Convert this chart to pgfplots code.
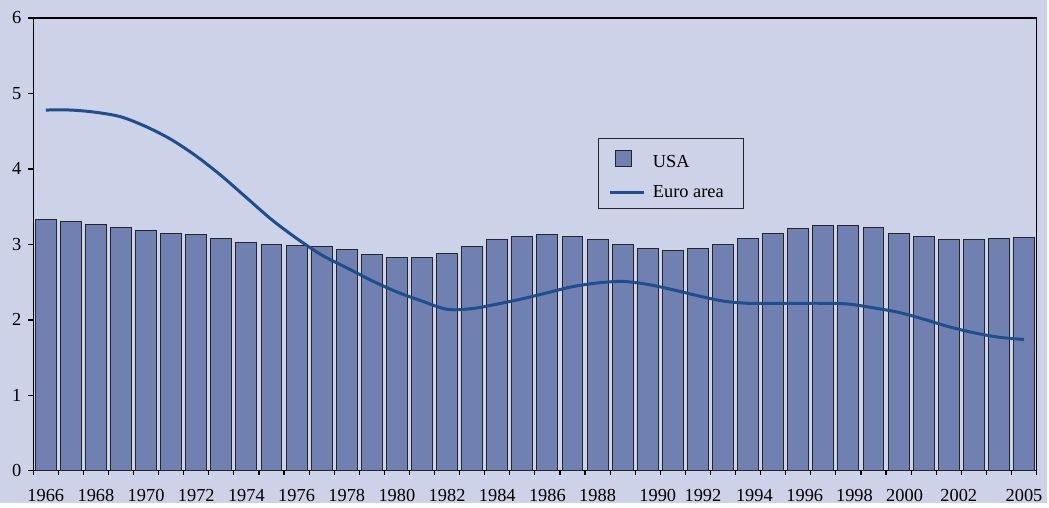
\documentclass[border=0pt]{standalone}
\usepackage{fontspec}
\setmainfont{Liberation Serif}
\usepackage{pgfplots}
\pgfplotsset{compat=1.18}
\definecolor{bgc}{RGB}{204,210,232}
\definecolor{barc}{RGB}{112,128,176}
\definecolor{linec}{RGB}{30,78,140}
\begin{document}
\begin{tikzpicture}
\fill[bgc] (0,0) rectangle (524.5pt,252pt);
\begin{axis}[
  at={(16.65pt,16pt)}, anchor=south west, scale only axis,
  width=502.85pt, height=227pt,
  xmin=-0.5, xmax=39.5, ymin=0, ymax=6,
  axis line style={black, line width=0.6pt},
  tick align=outside, tick pos=left,
  xtick={0,2,4,6,8,10,12,14,16,18,20,22,24.4,26.2,28.25,30.26,32.24,34.24,36.4,39},
  xticklabels={1966,1968,1970,1972,1974,1976,1978,1980,1982,1984,1986,1988,1990,1992,1994,1996,1998,2000,2002,2005},
  major x tick style={draw=none},
  minor xtick={-0.5,0.5,...,39.5},
  minor tick length=2pt,
  minor x tick style={black, line width=0.6pt},
  ytick={0,1,2,3,4,5,6},
  major tick length=2.5pt,
  major y tick style={black, line width=0.6pt},
  /pgf/number format/assume math mode=true,
  ticklabel style={font=\fontsize{9.2}{10}\selectfont},
  xticklabel style={yshift=-3pt},
  legend style={at={(0.5625,0.7357)}, anchor=north west, draw=black!85, fill=none,
    line width=0.5pt, font=\fontsize{9.2}{10}\selectfont, row sep=3.5pt,
    inner xsep=3pt, inner ysep=2pt},
  legend cell align=left,
]
\addlegendimage{legend image code/.code={\path[draw=none,fill=none] (-3pt,-4pt) rectangle (19.5pt,4pt);\draw[fill=barc, draw=black!85, line width=0.5pt] (2.5pt,-4pt) rectangle (10.5pt,4pt);}}
\addlegendentry{\rule{0pt}{10.5pt}USA}
\addlegendimage{legend image code/.code={\path[draw=none,fill=none] (-3pt,0pt) -- (19.5pt,0pt);\draw[linec, line width=1.5pt] (0pt,0pt) -- (17pt,0pt);}}
\addlegendentry{Euro area\rule{5pt}{0pt}}
\addplot[ybar, bar width=0.835, fill=barc, draw=black!85, line width=0.5pt, forget plot]
coordinates {
(0,3.33) (1,3.31) (2,3.27) (3,3.23) (4,3.18) (5,3.15) (6,3.13) (7,3.08) (8,3.02) (9,3.00)
(10,2.98) (11,2.97) (12,2.93) (13,2.87) (14,2.83) (15,2.83) (16,2.88) (17,2.97) (18,3.07) (19,3.11)
(20,3.13) (21,3.10) (22,3.06) (23,3.00) (24,2.95) (25,2.92) (26,2.95) (27,3.00) (28,3.08) (29,3.14)
(30,3.21) (31,3.25) (32,3.25) (33,3.22) (34,3.15) (35,3.10) (36,3.07) (37,3.07) (38,3.08) (39,3.09)
};
\addplot[linec, line width=1.5pt, smooth, mark=none, forget plot]
coordinates {
(0,4.78) (1,4.78) (2,4.75) (3,4.69) (4,4.56) (5,4.39) (6,4.17) (7,3.91) (8,3.62) (9,3.33)
(10,3.08) (11,2.86) (12,2.69) (13,2.52) (14,2.37) (15,2.25) (16,2.14) (17,2.15) (18,2.21) (19,2.28)
(20,2.36) (21,2.44) (22,2.49) (23,2.51) (24,2.47) (25,2.40) (26,2.32) (27,2.25) (28,2.22) (29,2.22)
(30,2.22) (31,2.22) (32,2.21) (33,2.16) (34,2.10) (35,2.01) (36,1.91) (37,1.83) (38,1.77) (39,1.74)
};
\end{axis}
\end{tikzpicture}
\end{document}
